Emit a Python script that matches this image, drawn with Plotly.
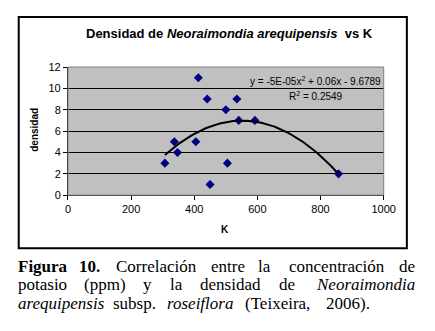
import numpy as np
import plotly.graph_objects as go

# Data
K = [307, 337, 347, 405, 413, 441, 450, 500, 505, 535, 541, 592, 857]
densidad = [3, 5, 4, 5, 11, 9, 1, 8, 3, 9, 7, 7, 2]
x_ticks = [0, 200, 400, 600, 800, 1000]
y_ticks = [0, 2, 4, 6, 8, 10, 12]

title_text = "<b>Densidad de <i>Neoraimondia arequipensis</i>  vs K</b>"
eq_text = "y = -5E-05x<sup>2</sup> + 0.06x - 9.6789"
r2_text = "R<sup>2</sup> = 0.2549"

W, H = 435, 331
OFF = 8  # default page margin of the html body
def px(x):
    return (x - OFF) / W
def py(y):
    return 1 - (y - OFF) / H

# plot area in screen pixels
L, R, T, B = 67, 394, 63, 196

coef = np.polyfit(K, densidad, 2)
xs = np.linspace(min(K), max(K), 100)
ys = np.polyval(coef, xs)

fig = go.Figure()
fig.add_trace(go.Scatter(x=K, y=densidad, mode="markers",
                         marker=dict(symbol="diamond", size=7, color="#000080"),
                         showlegend=False))
fig.add_trace(go.Scatter(x=xs, y=ys, mode="lines",
                         line=dict(color="black", width=2), showlegend=False))

fig.update_layout(
    width=W, height=H, autosize=False, margin=dict(l=0, r=0, t=0, b=0, pad=0),
    paper_bgcolor="white", plot_bgcolor="#C0C0C0",
    font=dict(family="Arial, Liberation Sans", size=11, color="black"),
    xaxis=dict(domain=[px(L), px(R)], range=[0, 1000], tickvals=x_ticks,
               showgrid=False, zeroline=False, showline=True, linecolor="black",
               linewidth=1, ticks="outside", ticklen=4, tickcolor="black",
               tickfont=dict(size=11)),
    yaxis=dict(domain=[py(B), py(T)], range=[0, 12], tickvals=y_ticks,
               showgrid=True, gridcolor="black", gridwidth=1, zeroline=False,
               showline=True, linecolor="black", linewidth=1, ticks="outside",
               ticklen=4, tickcolor="black", tickfont=dict(size=11)),
)

shapes = [
    dict(type="rect", xref="paper", yref="paper", x0=px(L), x1=px(R), y0=py(B), y1=py(T),
         line=dict(color="#808080", width=1), layer="above"),
    dict(type="rect", xref="paper", yref="paper", x0=px(16), x1=px(418), y0=py(251), y1=py(11),
         line=dict(color="black", width=2), layer="above"),
]
fig.update_layout(shapes=shapes)

ann = []
def add(text, x, y, size, xanchor="left", family="Arial, Liberation Sans", angle=0):
    ann.append(dict(text=text, x=px(x), y=py(y), xref="paper", yref="paper",
                    xanchor=xanchor, yanchor="middle", showarrow=False,
                    textangle=angle, font=dict(size=size, family=family, color="black")))

add(title_text, 234, 28, 13, xanchor="center")
add(eq_text, 393, 78, 10, xanchor="right")
add(r2_text, 324, 93, 10, xanchor="center")
add("<b>densidad</b>", 33, 128, 10, xanchor="center", angle=-90)
add("<b>K</b>", 230, 232, 10, xanchor="center")

serif = "Times New Roman, Liberation Serif"
lines = [
    (270, [("<b>Figura</b>", 13, "left"), ("<b>10.</b>", 76, "left"), ("Correlación", 115, "left"),
           ("entre", 213, "left"), ("la", 262, "left"), ("concentración", 294, "left"),
           ("de", 428, "right")]),
    (289, [("potasio", 13, "left"), ("(ppm)", 82, "left"), ("y", 143, "left"), ("la", 171, "left"),
           ("densidad", 202, "left"), ("de", 283, "left"), ("<i>Neoraimondia</i>", 428, "right")]),
    (308, [("<i>arequipensis</i>", 13, "left"), ("subsp.", 112, "left"), ("<i>roseiflora</i>", 168, "left"),
           ("(Teixeira,", 248, "left"), ("2006).", 332, "left")]),
]
for y, words in lines:
    for text, x, anc in words:
        add(text, x, y, 17, xanchor=anc, family=serif)

fig.update_layout(annotations=ann)
fig.write_html("out.html", config=dict(displayModeBar=False))
